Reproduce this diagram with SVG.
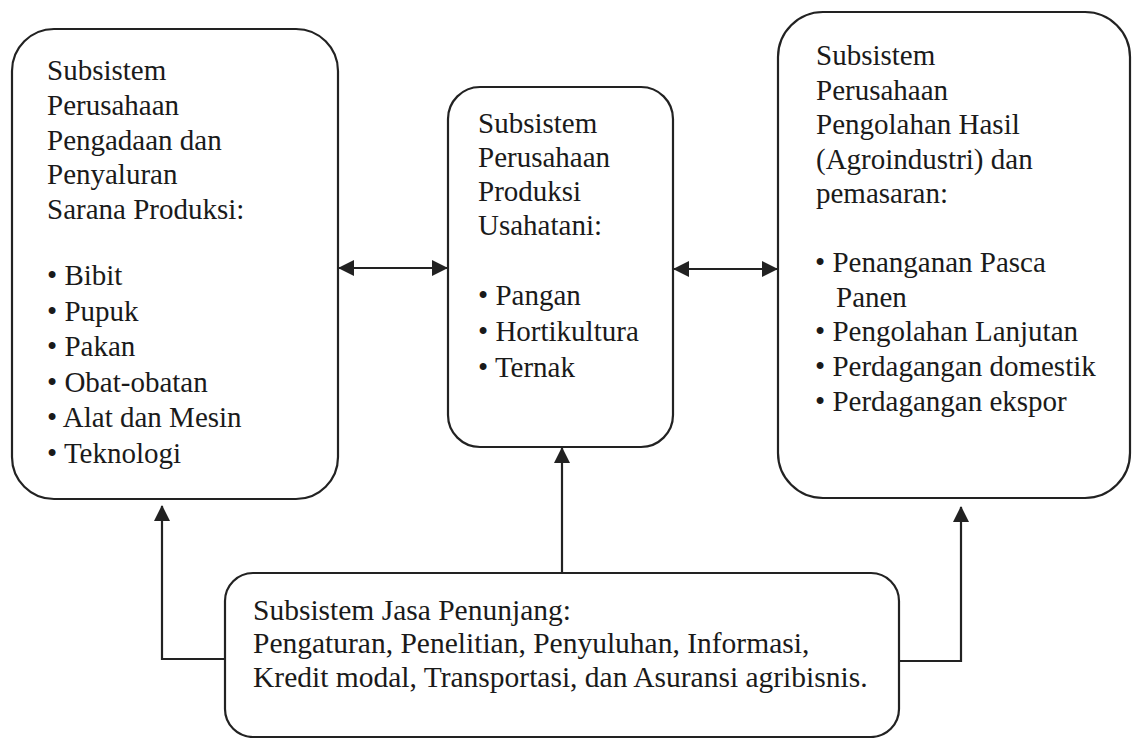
<svg xmlns="http://www.w3.org/2000/svg" width="1136" height="738" viewBox="0 0 1136 738">
<defs>
<style>
.box{fill:#fff;stroke:#222;stroke-width:2.2}
.t{font-family:"Liberation Serif","Times New Roman",serif;font-size:29px;fill:#1a1a1a}
.b{font-size:29.5px}
.c{fill:none;stroke:#222;stroke-width:2.2}
</style>
<marker id="ah" viewBox="0 0 16 16" refX="15" refY="8" markerWidth="16" markerHeight="16" markerUnits="userSpaceOnUse" orient="auto-start-reverse">
<path d="M0,0 L16,8 L0,16 Z" fill="#222"/>
</marker>
</defs>
<rect width="1136" height="738" fill="#fff"/>
<g id="connectors">
<line class="c" x1="339" y1="268" x2="447" y2="268" marker-start="url(#ah)" marker-end="url(#ah)"/>
<line class="c" x1="674" y1="269" x2="777" y2="269" marker-start="url(#ah)" marker-end="url(#ah)"/>
<line class="c" x1="562" y1="573" x2="562" y2="448" marker-end="url(#ah)"/>
<polyline class="c" points="225,659 162,659 162,506" marker-end="url(#ah)"/>
<polyline class="c" points="899,661 961,661 961,507" marker-end="url(#ah)"/>
</g>
<g id="node-sarana">
<rect class="box" x="12" y="29" width="326" height="470" rx="42"/>
<text class="t" x="47" y="80">Subsistem</text>
<text class="t" x="47" y="115">Perusahaan</text>
<text class="t" x="47" y="149.5">Pengadaan dan</text>
<text class="t" x="47" y="184">Penyaluran</text>
<text class="t" x="47" y="218.5">Sarana Produksi:</text>
<text class="t" x="47" y="285">• Bibit</text>
<text class="t" x="47" y="320.5">• Pupuk</text>
<text class="t" x="47" y="356">• Pakan</text>
<text class="t" x="47" y="391.5">• Obat-obatan</text>
<text class="t" x="47" y="427">• Alat dan Mesin</text>
<text class="t" x="47" y="462.5">• Teknologi</text>
</g>
<g id="node-produksi">
<rect class="box" x="448" y="87" width="225" height="360" rx="32"/>
<text class="t" x="478" y="133">Subsistem</text>
<text class="t" x="478" y="167">Perusahaan</text>
<text class="t" x="478" y="201">Produksi</text>
<text class="t" x="478" y="235">Usahatani:</text>
<text class="t" x="478" y="305">• Pangan</text>
<text class="t" x="478" y="341">• Hortikultura</text>
<text class="t" x="478" y="377">• Ternak</text>
</g>
<g id="node-pengolahan">
<rect class="box" x="778" y="12" width="352" height="486" rx="45"/>
<text class="t" x="816" y="65">Subsistem</text>
<text class="t" x="816" y="99.5">Perusahaan</text>
<text class="t" x="816" y="134">Pengolahan Hasil</text>
<text class="t" x="816" y="168.5">(Agroindustri) dan</text>
<text class="t" x="816" y="203">pemasaran:</text>
<text class="t" x="815" y="272">• Penanganan Pasca</text>
<text class="t" x="836" y="306.5">Panen</text>
<text class="t" x="815" y="341">• Pengolahan Lanjutan</text>
<text class="t" x="815" y="376">• Perdagangan domestik</text>
<text class="t" x="815" y="411">• Perdagangan ekspor</text>
</g>
<g id="node-jasa">
<rect class="box" x="225" y="573" width="674" height="164" rx="28"/>
<text class="t b" x="253" y="620">Subsistem Jasa Penunjang:</text>
<text class="t b" x="253" y="653">Pengaturan, Penelitian, Penyuluhan, Informasi,</text>
<text class="t b" x="253" y="687">Kredit modal, Transportasi, dan Asuransi agribisnis.</text>
</g>
</svg>
